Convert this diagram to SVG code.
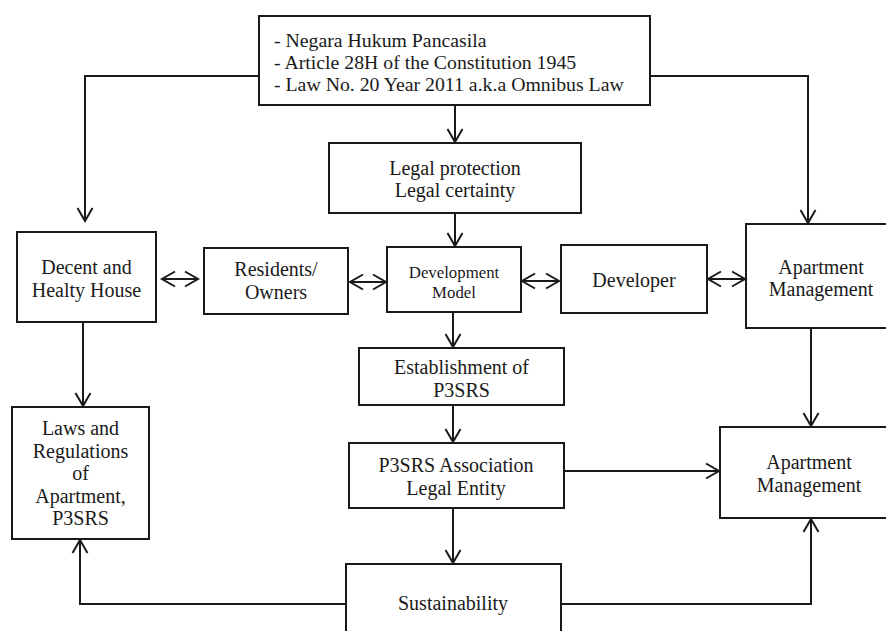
<svg xmlns="http://www.w3.org/2000/svg" width="886" height="631" viewBox="0 0 886 631">
<style>
.box{fill:#fff;stroke:#1a1a1a;stroke-width:2}
.t{font-family:"Liberation Serif","Times New Roman",serif;font-size:20px;fill:#1a1a1a;text-anchor:middle}
.tl{font-family:"Liberation Serif","Times New Roman",serif;font-size:19.8px;fill:#1a1a1a}
.ts{font-family:"Liberation Serif","Times New Roman",serif;font-size:16.8px;fill:#1a1a1a;text-anchor:middle}
.c{fill:none;stroke:#1a1a1a;stroke-width:2}
</style>
<defs>
<marker id="a" markerUnits="userSpaceOnUse" markerWidth="20" markerHeight="20" viewBox="-15 -10 17 20" refX="0" refY="0" orient="auto-start-reverse">
<path d="M-13,-7.5 L0,0 L-13,7.5" fill="none" stroke="#1a1a1a" stroke-width="2"/>
</marker>
</defs>
<rect width="886" height="631" fill="#fff"/>
<g id="connectors">
<path class="c" d="M259,76 H85 V221" marker-end="url(#a)"/>
<path class="c" d="M650,76 H808 V223" marker-end="url(#a)"/>
<path class="c" d="M455,105 V142" marker-end="url(#a)"/>
<path class="c" d="M455,213 V246" marker-end="url(#a)"/>
<path class="c" d="M162,279 H198" marker-start="url(#a)" marker-end="url(#a)"/>
<path class="c" d="M350,282 H386" marker-start="url(#a)" marker-end="url(#a)"/>
<path class="c" d="M522,281 H559" marker-start="url(#a)" marker-end="url(#a)"/>
<path class="c" d="M708,279 H745" marker-start="url(#a)" marker-end="url(#a)"/>
<path class="c" d="M83,322 V406" marker-end="url(#a)"/>
<path class="c" d="M453,312 V347" marker-end="url(#a)"/>
<path class="c" d="M453,405 V442" marker-end="url(#a)"/>
<path class="c" d="M564,471 H719" marker-end="url(#a)"/>
<path class="c" d="M811,328 V426" marker-end="url(#a)"/>
<path class="c" d="M453,508 V563" marker-end="url(#a)"/>
<path class="c" d="M346,604 H80 V540" marker-end="url(#a)"/>
<path class="c" d="M561,604 H811 V519" marker-end="url(#a)"/>
</g>
<g id="top">
<rect class="box" x="259" y="16" width="391" height="89"/>
<text class="tl" x="274" y="47">- Negara Hukum Pancasila</text>
<text class="tl" x="274" y="69">- Article 28H of the Constitution 1945</text>
<text class="tl" x="274" y="91">- Law No. 20 Year 2011 a.k.a Omnibus Law</text>
</g>
<g id="legal">
<rect class="box" x="329" y="143" width="252" height="70"/>
<text class="t" x="455" y="175">Legal protection</text>
<text class="t" x="455" y="197">Legal certainty</text>
</g>
<g id="decent">
<rect class="box" x="17" y="232" width="139" height="90"/>
<text class="t" x="86.5" y="274">Decent and</text>
<text class="t" x="86.5" y="297">Healty House</text>
</g>
<g id="residents">
<rect class="box" x="204" y="248" width="144" height="66"/>
<text class="t" x="276" y="276">Residents/</text>
<text class="t" x="276" y="299">Owners</text>
</g>
<g id="devmodel">
<rect class="box" x="387" y="247" width="134" height="65"/>
<text class="ts" x="454" y="278">Development</text>
<text class="ts" x="454" y="298">Model</text>
</g>
<g id="developer">
<rect class="box" x="561" y="245" width="146" height="68"/>
<text class="t" x="634" y="287">Developer</text>
</g>
<g id="aptmgmt1">
<rect class="box" x="746" y="224" width="150" height="104"/>
<text class="t" x="821" y="274">Apartment</text>
<text class="t" x="821" y="296">Management</text>
</g>
<g id="laws">
<rect class="box" x="12" y="407" width="137" height="132"/>
<text class="t" x="80.5" y="435">Laws and</text>
<text class="t" x="80.5" y="458">Regulations</text>
<text class="t" x="80.5" y="480">of</text>
<text class="t" x="80.5" y="503">Apartment,</text>
<text class="t" x="80.5" y="525">P3SRS</text>
</g>
<g id="establishment">
<rect class="box" x="359" y="348" width="205" height="57"/>
<text class="t" x="461.5" y="374">Establishment of</text>
<text class="t" x="461.5" y="397">P3SRS</text>
</g>
<g id="association">
<rect class="box" x="349" y="443" width="215" height="65"/>
<text class="t" x="456" y="472">P3SRS Association</text>
<text class="t" x="456" y="495">Legal Entity</text>
</g>
<g id="aptmgmt2">
<rect class="box" x="720" y="427" width="170" height="91"/>
<text class="t" x="809" y="469">Apartment</text>
<text class="t" x="809" y="492">Management</text>
</g>
<g id="sustainability">
<rect class="box" x="346" y="564" width="215" height="80"/>
<text class="t" x="453" y="610">Sustainability</text>
</g>
</svg>
